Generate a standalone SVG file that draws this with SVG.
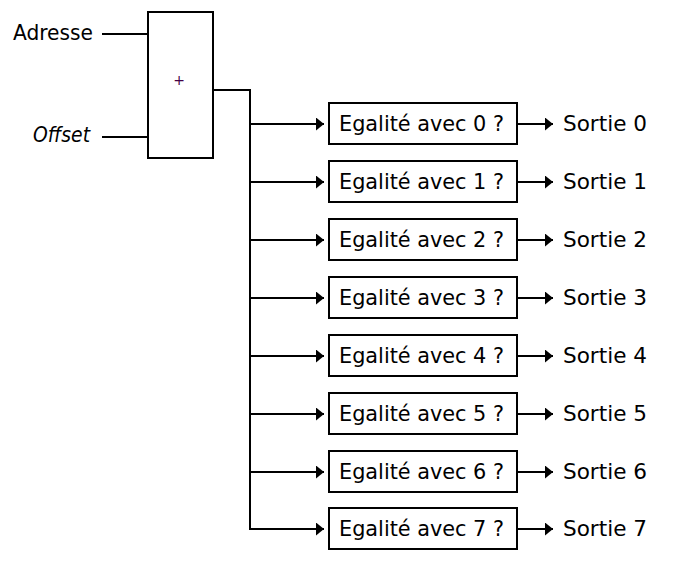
<svg xmlns="http://www.w3.org/2000/svg" width="676" height="571" viewBox="0 0 676 571">
<style>
.t{font-family:"DejaVu Sans Condensed","DejaVu Sans","Liberation Sans",sans-serif;font-size:22px;fill:#000}
.b{fill:#fff;stroke:#000;stroke-width:2}
.c{fill:none;stroke:#000;stroke-width:2}
</style>
<defs>
<marker id="ah" viewBox="0 0 8 13" refX="8" refY="6.5" markerWidth="8" markerHeight="13" markerUnits="userSpaceOnUse" orient="auto">
<path d="M0,0 L8,6.5 L0,13 Z" fill="#000"/>
</marker>
</defs>
<rect width="676" height="571" fill="#fff"/>
<g id="adresse"><text class="t" x="13" y="40" textLength="80" lengthAdjust="spacingAndGlyphs">Adresse</text></g>
<g id="offset"><text class="t" x="33" y="142" font-style="italic" textLength="57" lengthAdjust="spacingAndGlyphs">Offset</text></g>
<g id="adder"><rect class="b" x="148" y="12" width="65" height="146"/><text x="179" y="85" font-family="DejaVu Sans,sans-serif" font-size="14" fill="#404" text-anchor="middle">+</text></g>
<g id="connectors">
<path class="c" d="M102,34 H148 M102,137 H148 M213,90 H250 V530"/>
<g id="arrows-in">
<path class="c" d="M250,124 H324" marker-end="url(#ah)"/>
<path class="c" d="M250,182 H324" marker-end="url(#ah)"/>
<path class="c" d="M250,240 H324" marker-end="url(#ah)"/>
<path class="c" d="M250,298 H324" marker-end="url(#ah)"/>
<path class="c" d="M250,356 H324" marker-end="url(#ah)"/>
<path class="c" d="M250,414 H324" marker-end="url(#ah)"/>
<path class="c" d="M250,472 H324" marker-end="url(#ah)"/>
<path class="c" d="M250,529 H324" marker-end="url(#ah)"/>
</g>
<g id="arrows-out">
<path class="c" d="M517,124 H553" marker-end="url(#ah)"/>
<path class="c" d="M517,182 H553" marker-end="url(#ah)"/>
<path class="c" d="M517,240 H553" marker-end="url(#ah)"/>
<path class="c" d="M517,298 H553" marker-end="url(#ah)"/>
<path class="c" d="M517,356 H553" marker-end="url(#ah)"/>
<path class="c" d="M517,414 H553" marker-end="url(#ah)"/>
<path class="c" d="M517,472 H553" marker-end="url(#ah)"/>
<path class="c" d="M517,529 H553" marker-end="url(#ah)"/>
</g>
</g>
<g id="eq0"><rect class="b" x="329" y="103" width="188" height="41"/><text class="t" x="339" y="131" textLength="165" lengthAdjust="spacingAndGlyphs">Egalité avec 0 ?</text></g>
<g id="eq1"><rect class="b" x="329" y="161" width="188" height="41"/><text class="t" x="339" y="189" textLength="165" lengthAdjust="spacingAndGlyphs">Egalité avec 1 ?</text></g>
<g id="eq2"><rect class="b" x="329" y="219" width="188" height="41"/><text class="t" x="339" y="247" textLength="165" lengthAdjust="spacingAndGlyphs">Egalité avec 2 ?</text></g>
<g id="eq3"><rect class="b" x="329" y="277" width="188" height="41"/><text class="t" x="339" y="305" textLength="165" lengthAdjust="spacingAndGlyphs">Egalité avec 3 ?</text></g>
<g id="eq4"><rect class="b" x="329" y="335" width="188" height="41"/><text class="t" x="339" y="363" textLength="165" lengthAdjust="spacingAndGlyphs">Egalité avec 4 ?</text></g>
<g id="eq5"><rect class="b" x="329" y="393" width="188" height="41"/><text class="t" x="339" y="421" textLength="165" lengthAdjust="spacingAndGlyphs">Egalité avec 5 ?</text></g>
<g id="eq6"><rect class="b" x="329" y="451" width="188" height="41"/><text class="t" x="339" y="479" textLength="165" lengthAdjust="spacingAndGlyphs">Egalité avec 6 ?</text></g>
<g id="eq7"><rect class="b" x="329" y="508" width="188" height="41"/><text class="t" x="339" y="536" textLength="165" lengthAdjust="spacingAndGlyphs">Egalité avec 7 ?</text></g>
<g id="out0"><text class="t" x="563" y="131" textLength="84" lengthAdjust="spacingAndGlyphs">Sortie 0</text></g>
<g id="out1"><text class="t" x="563" y="189" textLength="84" lengthAdjust="spacingAndGlyphs">Sortie 1</text></g>
<g id="out2"><text class="t" x="563" y="247" textLength="84" lengthAdjust="spacingAndGlyphs">Sortie 2</text></g>
<g id="out3"><text class="t" x="563" y="305" textLength="84" lengthAdjust="spacingAndGlyphs">Sortie 3</text></g>
<g id="out4"><text class="t" x="563" y="363" textLength="84" lengthAdjust="spacingAndGlyphs">Sortie 4</text></g>
<g id="out5"><text class="t" x="563" y="421" textLength="84" lengthAdjust="spacingAndGlyphs">Sortie 5</text></g>
<g id="out6"><text class="t" x="563" y="479" textLength="84" lengthAdjust="spacingAndGlyphs">Sortie 6</text></g>
<g id="out7"><text class="t" x="563" y="536" textLength="84" lengthAdjust="spacingAndGlyphs">Sortie 7</text></g>
</svg>
